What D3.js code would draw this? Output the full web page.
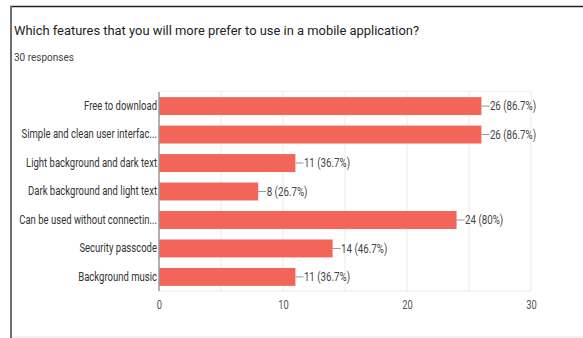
<!DOCTYPE html>
<html lang="en">
<head>
  <meta charset="UTF-8">
  <title>Mobile application features</title>
  <script src="https://d3js.org/d3.v7.min.js"></script>
  <style>
    html, body { margin: 0; padding: 0; background: #fff; }
    svg { display: block; }
    text { font-family: Roboto, Arial, sans-serif; }
  </style>
</head>
<body>
  <svg id="chart"></svg>
  <script>
    // survey data
    const categories = [
      "Free to download",
      "Simple and clean user interfac...",
      "Light background and dark text",
      "Dark background and light text",
      "Can be used without connectin...",
      "Security passcode",
      "Background music"
    ];
    const counts = [26, 26, 11, 8, 24, 14, 11];
    const percents = ["86.7%", "86.7%", "36.7%", "26.7%", "80%", "46.7%", "36.7%"];
    const xTicks = [0, 10, 20, 30];
    const gridTicks = [0, 5, 10, 15, 20, 25, 30];
    const total = 30;

    // the source picture is squeezed sideways, so draw wider and squash the svg
    const sx = 0.78;
    const W = 583, H = 338;
    const IW = W / sx;

    const svg = d3.select("#chart")
      .attr("width", W)
      .attr("height", H)
      .attr("viewBox", `0 0 ${IW} ${H}`)
      .attr("preserveAspectRatio", "none");

    // card frame
    svg.append("line")
      .attr("x1", 10 / sx).attr("x2", IW).attr("y1", 6.5).attr("y2", 6.5)
      .attr("stroke", "#222").attr("stroke-width", 1.5);
    svg.append("line")
      .attr("x1", 11 / sx).attr("x2", 11 / sx).attr("y1", 6).attr("y2", H)
      .attr("stroke", "#6f6f6f").attr("stroke-width", 2 / sx);
    svg.append("line")
      .attr("x1", 12 / sx).attr("x2", IW).attr("y1", 337).attr("y2", 337)
      .attr("stroke", "#e0e0e0").attr("stroke-width", 1);

    // title is a bit wider than its height suggests in the source
    svg.append("text")
      .attr("x", 14 / sx).attr("y", 35)
      .attr("font-size", 13).attr("fill", "#222")
      .attr("textLength", 405 / sx).attr("lengthAdjust", "spacingAndGlyphs")
      .text("Which features that you will more prefer to use in a mobile application?");
    svg.append("text")
      .attr("x", 14 / sx).attr("y", 61)
      .attr("font-size", 10).attr("fill", "#444")
      .attr("textLength", 60 / sx).attr("lengthAdjust", "spacingAndGlyphs")
      .text(total + " responses");

    const x = d3.scaleLinear().domain([0, 30]).range([159 / sx, 531 / sx]);
    const y = d3.scaleBand().domain(categories).range([92, 291]).paddingInner(0.37).paddingOuter(0.18);

    // grid
    svg.append("g").selectAll("line").data(gridTicks).join("line")
      .attr("x1", d => x(d)).attr("x2", d => x(d))
      .attr("y1", 92).attr("y2", 291)
      .attr("stroke", "#ececec").attr("stroke-width", 1 / sx);
    svg.append("line")
      .attr("x1", x(0)).attr("x2", x(30)).attr("y1", 91.5).attr("y2", 91.5)
      .attr("stroke", "#f0f0f0");
    svg.append("line")
      .attr("x1", x(0)).attr("x2", x(30)).attr("y1", 291).attr("y2", 291)
      .attr("stroke", "#e6e6e6");

    // bars
    svg.append("g").selectAll("rect").data(counts).join("rect")
      .attr("x", x(0))
      .attr("y", (d, i) => y(categories[i]))
      .attr("width", d => x(d) - x(0))
      .attr("height", y.bandwidth())
      .attr("fill", "#f26558");

    // value labels with leader lines
    const lab = svg.append("g").selectAll("g").data(counts).join("g")
      .attr("transform", (d, i) => `translate(${x(d)},${y(categories[i]) + y.bandwidth() / 2})`);
    lab.append("line")
      .attr("x1", 0).attr("x2", 8 / sx)
      .attr("stroke", "#888").attr("stroke-width", 1);
    lab.append("text")
      .attr("x", 8.5 / sx).attr("dy", "0.35em")
      .attr("font-size", 12.5).attr("fill", "#444")
      .text((d, i) => `${d} (${percents[i]})`);

    // y axis
    const yAxis = svg.append("g")
      .attr("transform", `translate(${x(0)},0)`)
      .call(d3.axisLeft(y).tickSize(0).tickPadding(2 / sx));
    yAxis.select(".domain").attr("stroke", "#9a9a9a").attr("stroke-width", 1.5 / sx)
      .attr("d", `M0,92V291`);
    yAxis.selectAll("text")
      .attr("font-size", 12.2).attr("fill", "#333").style("font-family", "Roboto, Arial, sans-serif");

    // x axis
    const xAxis = svg.append("g")
      .attr("transform", "translate(0,291)")
      .call(d3.axisBottom(x).tickValues(xTicks).tickSize(0).tickPadding(9));
    xAxis.select(".domain").remove();
    xAxis.selectAll("text")
      .attr("font-size", 12).attr("fill", "#555").style("font-family", "Roboto, Arial, sans-serif");
  </script>
</body>
</html>
